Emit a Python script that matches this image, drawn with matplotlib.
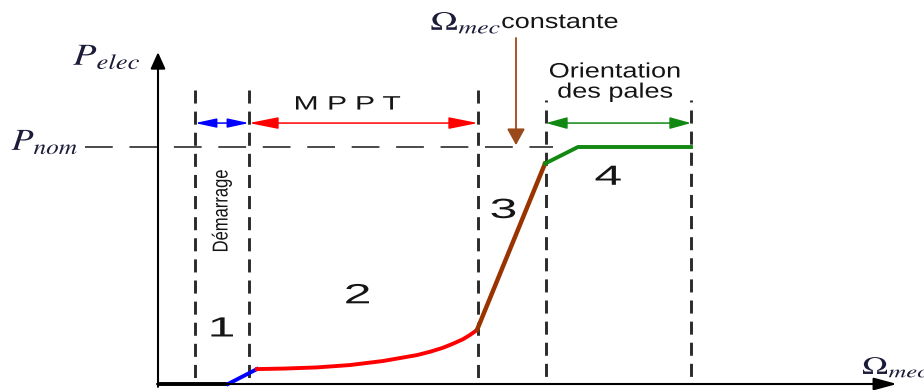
import matplotlib
matplotlib.use('Agg')
import matplotlib.pyplot as plt
from matplotlib.patheffects import AbstractPathEffect
from matplotlib.transforms import Affine2D

# omega in units of 100 px from the origin, power scaled so that p_nom = 1
bounds = [0.37, 0.91, 3.20, 3.88, 5.33]
p_nom = 1.0

start_w = [0.0, 0.70]
start_p = [0.0, 0.0]
zone1_w = [0.70, 0.99]
zone1_p = [0.0, 0.063]
zone2_w = [0.99, 1.25, 1.59, 1.92, 2.25, 2.59, 2.72, 2.85, 2.95, 3.05, 3.12, 3.19]
zone2_p = [0.063, 0.065, 0.070, 0.080, 0.097, 0.122, 0.136, 0.153, 0.170, 0.189, 0.207, 0.228]
zone3_w = [3.19, 3.87]
zone3_p = [0.228, 0.93]
zone4_w = [3.87, 4.20, 5.33]
zone4_p = [0.93, 1.0, 1.0]

zone_labels = ['1', '2', '3', '4']
zone_names = ['Démarrage', 'M P P T', 'Orientation\ndes pales']


class Stretch(AbstractPathEffect):
    # the source picture is squashed/stretched sideways, do the same to the glyphs
    def __init__(self, sx, about='center'):
        super().__init__()
        self.sx = sx
        self.about = about

    def draw_path(self, renderer, gc, tpath, affine, rgbFace=None):
        xs = tpath.vertices[:, 0]
        x0 = xs.min() if self.about == 'left' else (xs.min() + xs.max()) / 2
        t = Affine2D().translate(-x0, 0).scale(self.sx, 1).translate(x0, 0) + affine
        renderer.draw_path(gc, tpath, t, rgbFace)


plt.rcParams['lines.scale_dashes'] = False
plt.rcParams['mathtext.fontset'] = 'stix'
plt.rcParams['font.family'] = ['Liberation Sans', 'DejaVu Sans']

fig = plt.figure(figsize=(9.24, 3.9), dpi=100)
ax = fig.add_axes([0, 0, 1, 1])
ax.set_xlim(-1.58, 7.66)
ax.set_ylim(-6 / 237, 384 / 237)
ax.axis('off')

txt = '#151515'
mcol = '#1c1c3a'

# axes with arrows
ax.annotate('', xy=(0, 1.40), xytext=(0, -0.012),
            arrowprops=dict(arrowstyle='-|>,head_length=1.0,head_width=0.45', color='k',
                            lw=1.5, shrinkA=0, shrinkB=0, mutation_scale=10))
ax.annotate('', xy=(7.39, 0), xytext=(-0.01, 0),
            arrowprops=dict(arrowstyle='-|>,head_length=1.4,head_width=0.38', color='k',
                            lw=1.5, shrinkA=0, shrinkB=0, mutation_scale=10))

# p_nom level
ax.plot([-0.73, 3.95], [p_nom, p_nom], color='#4a4a4a', lw=1.4, linestyle=(0, (20, 12)))

# zone boundaries
for i, w in enumerate(bounds):
    if i < 3:
        ax.plot([w, w], [1.24, 0], color='#2a2a2a', lw=2.1, linestyle=(0, (9.4, 5.8)))
    else:
        ax.plot([w, w], [1.20, 0], color='#2a2a2a', lw=2.1, linestyle=(8, (9.4, 5.8)))

# power curve
ax.plot(start_w, start_p, color='k', lw=2.8, solid_capstyle='butt')
ax.plot(zone1_w, zone1_p, color='#0000ff', lw=2.8)
ax.plot(zone2_w, zone2_p, color='#ff0000', lw=2.8, solid_joinstyle='round')
ax.plot(zone3_w, zone3_p, color='#993300', lw=3.2)
ax.plot(zone4_w, zone4_p, color='#118811', lw=2.8)

# zone arrows
ya = 1.101
ax.annotate('', xy=(bounds[1], ya), xytext=(bounds[0], ya),
            arrowprops=dict(arrowstyle='<|-|>,head_length=1.3,head_width=0.28', color='#0000ff',
                            lw=1.1, shrinkA=0, shrinkB=0, mutation_scale=10))
ax.annotate('', xy=(bounds[2], ya), xytext=(bounds[1], ya),
            arrowprops=dict(arrowstyle='<|-|>,head_length=1.8,head_width=0.36', color='#ff0000',
                            lw=1.1, shrinkA=0, shrinkB=0, mutation_scale=10))
ax.annotate('', xy=(bounds[4], ya), xytext=(bounds[3], ya),
            arrowprops=dict(arrowstyle='<|-|>,head_length=1.3,head_width=0.36', color='#118811',
                            lw=1.1, shrinkA=0, shrinkB=0, mutation_scale=10))

# constant speed arrow
ax.annotate('', xy=(3.58, 1.008), xytext=(3.58, 1.46),
            arrowprops=dict(arrowstyle='-|>,head_length=1.0,head_width=0.55', color='#9a4a1a',
                            lw=1.3, shrinkA=0, shrinkB=0, mutation_scale=10))

# zone numbers
num_pos = [(0.63, 0.23), (1.99, 0.37), (3.45, 0.73), (4.50, 0.87)]
for lab, (x, y) in zip(zone_labels, num_pos):
    ax.text(x, y, lab, ha='center', va='center', fontsize=20, color=txt,
            path_effects=[Stretch(1.8)])

ax.text(0.64, 0.73, zone_names[0], rotation=90, ha='center', va='center',
        fontsize=15.5, color=txt, path_effects=[Stretch(0.77)])
ax.text(1.89, 1.177, zone_names[1], ha='center', va='center', fontsize=14,
        color=txt, path_effects=[Stretch(1.55)])
ax.text(4.57, 1.274, zone_names[2], ha='center', va='center', fontsize=15,
        linespacing=1.08, color=txt, path_effects=[Stretch(1.3)])
ax.text(4.02, 1.502, 'constante', ha='center', va='baseline', fontsize=15,
        color=txt, path_effects=[Stretch(1.3)])

# math labels
ax.text(3.08, 1.494, r'$\Omega_{mec}$', ha='center', va='baseline', fontsize=19,
        color=mcol, path_effects=[Stretch(1.4)])
ax.text(-0.51, 1.346, r'$P_{elec}$', ha='center', va='baseline', fontsize=22,
        color=mcol, path_effects=[Stretch(1.25)])
ax.text(-1.13, 0.987, r'$P_{nom}$', ha='center', va='baseline', fontsize=22,
        color=mcol, path_effects=[Stretch(1.18)])
ax.text(7.04, 0.042, r'$\Omega_{mec}$', ha='left', va='baseline', fontsize=18,
        color=mcol, path_effects=[Stretch(1.4, about='left')])

fig.savefig('out.png', dpi=100)
